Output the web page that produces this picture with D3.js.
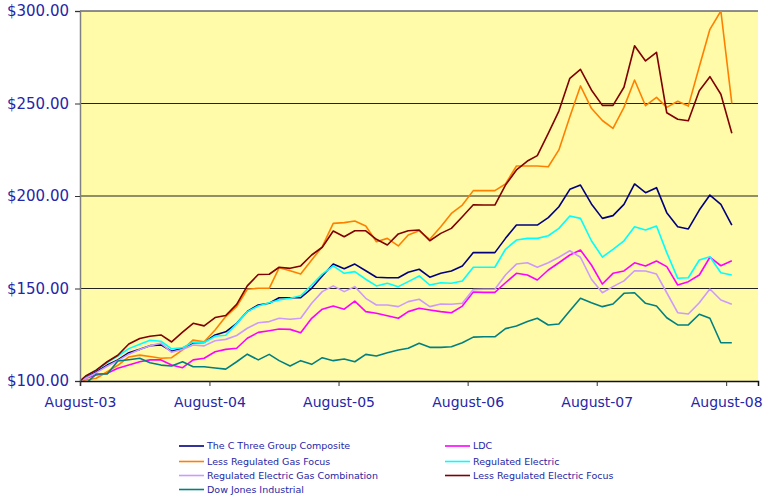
<!DOCTYPE html>
<html>
<head>
<meta charset="utf-8">
<script src="https://cdn.jsdelivr.net/npm/d3@7"></script>
<style>
    html, body { margin: 0; padding: 0; background: #fff; }
    svg { display: block; font-family: 'DejaVu Sans', Verdana, sans-serif; }
</style>
</head>
<body>
<svg id="chart" width="767" height="495"></svg>
<script>
// Data //
const dates = [
    '2003-08-15', '2003-08-31', '2003-09-30', '2003-10-31', '2003-11-30', '2003-12-31',
    '2004-01-31', '2004-02-29', '2004-03-31', '2004-04-30', '2004-05-31', '2004-06-30', '2004-07-31', '2004-08-31',
    '2004-09-30', '2004-10-31', '2004-11-30', '2004-12-31', '2005-01-31', '2005-02-28',
    '2005-03-31', '2005-04-30', '2005-05-31', '2005-06-30', '2005-07-31', '2005-08-31',
    '2005-09-30', '2005-10-31', '2005-11-30', '2005-12-31', '2006-01-31', '2006-02-28',
    '2006-03-31', '2006-04-30', '2006-05-31', '2006-06-30', '2006-07-31', '2006-08-31',
    '2006-09-30', '2006-10-31', '2006-11-30', '2006-12-31', '2007-01-31', '2007-02-28',
    '2007-03-31', '2007-04-30', '2007-05-31', '2007-06-30', '2007-07-31', '2007-08-31',
    '2007-09-30', '2007-10-31', '2007-11-30', '2007-12-31', '2008-01-31', '2008-02-29',
    '2008-03-31', '2008-04-30', '2008-05-31', '2008-06-30', '2008-07-31', '2008-08-31',
]

const cThreeComposite = [
    100, 102, 105, 108.6, 111.4, 115.3, 117.1, 119.1, 119.5, 116.1, 117.7, 120.7, 120.9, 124.9,
    126.6, 131.2, 137.6, 141.1, 142, 145, 145, 145, 150.1, 156.8, 163.2, 160.7,
    163.2, 159.6, 156.1, 155.8, 155.8, 158.8, 160.4, 156.1, 158.2, 159.5, 162.2, 169.4,
    169.4, 169.4, 177.1, 184.3, 184.3, 184.3, 188.3, 194.2, 203.6, 205.9, 195.7, 187.9,
    189.4, 195.5, 206.5, 201.8, 204.5, 191, 183.4, 182.2, 192.4, 200.5, 195.5, 184.3,
]

const ldc = [
    100, 101.5, 103.2, 104.2, 106.9, 108.6, 110.4, 111.4, 111.4, 108.6, 107.2, 111.4, 112.3, 115.8,
    117.1, 117.7, 123.1, 126.3, 127.2, 128.1, 127.9, 126.1, 133.9, 138.8, 140.5, 138.8,
    143.2, 137.5, 136.6, 135.3, 133.9, 137.5, 139.3, 138.4, 137.5, 136.9, 140.5, 148.1,
    147.9, 147.9, 153.1, 158.2, 157.3, 154.6, 160, 163.9, 168.1, 170.8, 162.7, 152.4,
    158.2, 159.5, 163.9, 162.2, 164.9, 161.8, 151.9, 153.7, 157.3, 166.9, 162.3, 165,
]

const lessRegGas = [
    100, 100.5, 101.5, 105, 108.5, 113, 114, 113.2, 112.3, 112.6, 116.8, 122.2, 121.2, 127.6,
    134.8, 140.2, 149.6, 150.1, 150.1, 161.2, 159.6, 157.8, 165.4, 172.6, 185.2, 185.6,
    186.5, 183.8, 175.3, 177.1, 173, 178.9, 181.2, 176.6, 183.4, 190.6, 195.1, 202.9,
    202.9, 202.9, 206.5, 216.2, 216.2, 216.2, 215.8, 224.9, 242.9, 259.5, 247.4, 240.8,
    236.6, 247.9, 262.7, 248.8, 253.3, 247.9, 251.2, 248.6, 269.9, 290.1, 300, 250.1,
]

const regElectric = [
    100, 102.5, 106, 110, 113.5, 117.5, 119.8, 122, 121.5, 117.4, 118, 121, 120.8, 124.2,
    124.7, 131, 137.5, 140.5, 142.3, 143.8, 144.7, 146.1, 151.9, 157.8, 162.2, 158.2,
    159.1, 155, 151.4, 152.8, 151, 153.7, 156.8, 151.9, 153.1, 152.8, 154.1, 161.5,
    161.5, 161.5, 171.2, 176.2, 177.1, 177.1, 178.5, 182.5, 189.2, 187.9, 175.8, 167,
    171.2, 175.8, 183.4, 181.6, 183.8, 169.4, 155.5, 155.8, 165.4, 167.2, 158.5, 157.3,
]

const regElecGasCombo = [
    100, 101.5, 104.5, 108, 111, 114.5, 117, 119, 120.5, 115.5, 117, 119.5, 119, 121.8,
    122.5, 124.6, 128.5, 131.5, 132.1, 133.9, 133.4, 133.9, 142, 148.3, 151.4, 148.3,
    151, 144.7, 141.1, 141.1, 140.2, 142.9, 144.2, 140.2, 141.6, 141.5, 142, 149.4,
    149.6, 149.6, 157.3, 163.2, 163.9, 161.5, 163.9, 166.9, 170.4, 166.9, 155, 147.7,
    151, 154.1, 159.6, 159.5, 157.8, 147.7, 136.9, 136.2, 142.3, 149.7, 143.8, 141.5,
]

const lessRegElectric = [
    100, 102.7, 105.9, 110.4, 113.9, 120, 123, 124.2, 124.9, 121.1, 126.4, 131.2, 129.8, 134.3,
    135.4, 141.4, 151.4, 157.6, 157.7, 161.5, 160.9, 162.2, 168.1, 172.3, 181.1, 178,
    181.2, 181.2, 176.6, 173.5, 179.5, 181.2, 181.6, 175.8, 179.8, 182.5, 188.8, 195.3,
    195.1, 195.1, 205.9, 214.1, 218.9, 221.8, 233.9, 245.9, 263.6, 268.5, 257.3, 249,
    249, 258.8, 281.2, 273, 277.7, 245, 241.5, 240.7, 256.9, 264.5, 255, 233.9,
]

const dowJones = [
    100, 98.5, 103.8, 103.8, 110.8, 111.5, 112.3, 109.9, 108.6, 108.1, 110.4, 107.7, 107.7, 107,
    106.4, 110.4, 114.5, 111.4, 114.4, 111, 108.1, 111, 109, 112.6, 111, 111.9,
    110.4, 114.4, 113.5, 115.3, 116.8, 117.7, 120.4, 118.2, 118.2, 118.5, 120.7, 123.7,
    123.9, 123.9, 128.3, 129.7, 132.1, 133.9, 130.3, 130.8, 138, 144.7, 142.3, 140.2,
    141.6, 147.4, 147.7, 142, 140.5, 134.2, 130.3, 130.3, 136.1, 133.9, 120.7, 120.7,
]

const seriesNames = [
    'The C Three Group Composite', 'LDC', 'Less Regulated Gas Focus', 'Regulated Electric',
    'Regulated Electric Gas Combination', 'Less Regulated Electric Focus', 'Dow Jones Industrial',
]
const seriesValues = [cThreeComposite, ldc, lessRegGas, regElectric, regElecGasCombo, lessRegElectric, dowJones]
const seriesColors = ['#000080', '#ff00ff', '#ff8000', '#00ffff', '#cc99ff', '#800000', '#008080']

const yTicks = [100, 150, 200, 250, 300]
const xTickDates = ['2003-08-15', '2004-08-15', '2005-08-15', '2006-08-15', '2007-08-15', '2008-08-15']
const xDomain = ['2003-08-15', '2008-11-13']

// Setup //
const textColor = '#2626a6'
const plot = { left: 80, right: 758, top: 11, bottom: 381 }
const parseDate = d3.utcParse('%Y-%m-%d')

const svg = d3.select('#chart')

const x = d3.scaleUtc()
    .domain(xDomain.map(parseDate))
    .range([plot.left, plot.right])

const y = d3.scaleLinear()
    .domain([100, 300])
    .range([plot.bottom, plot.top])

svg.append('defs').append('clipPath')
    .attr('id', 'plot-clip')
    .append('rect')
        .attr('x', plot.left)
        .attr('y', plot.top)
        .attr('width', plot.right - plot.left)
        .attr('height', plot.bottom - plot.top)

// Background + grid //
svg.append('rect')
    .attr('x', plot.left)
    .attr('y', plot.top)
    .attr('width', plot.right - plot.left)
    .attr('height', plot.bottom - plot.top)
    .attr('fill', '#fffba8')

svg.append('g')
    .selectAll('line')
    .data(yTicks.slice(1))
    .enter()
    .append('line')
        .attr('x1', plot.left)
        .attr('x2', plot.right)
        .attr('y1', d => y(d))
        .attr('y2', d => y(d))
        .attr('stroke', '#222')
        .attr('stroke-width', 1.2)

// Lines //
const line = d3.line()
    .x((d, i) => x(parseDate(dates[i])))
    .y(d => y(d))

svg.append('g')
    .attr('clip-path', 'url(#plot-clip)')
    .selectAll('path')
    .data(seriesValues)
    .enter()
    .append('path')
        .attr('d', line)
        .attr('fill', 'none')
        .attr('stroke', (d, i) => seriesColors[i])
        .attr('stroke-width', 1.6)
        .attr('stroke-linejoin', 'round')

// Axes //
const yAxis = svg.append('g')
    .attr('transform', `translate(${plot.left},0)`)
    .call(d3.axisLeft(y)
        .tickValues(yTicks)
        .tickFormat(d3.format('$.2f'))
        .tickSize(5)
        .tickPadding(6))

yAxis.select('.domain').attr('stroke', '#808080').attr('stroke-width', 1.5)
yAxis.selectAll('.tick line').attr('stroke', '#333')
yAxis.selectAll('text')
    .attr('fill', textColor)
    .style('font-size', '15px')
    .style('font-family', "'DejaVu Sans', Verdana, sans-serif")

const xAxis = svg.append('g')
    .attr('transform', `translate(0,${plot.bottom})`)
    .call(d3.axisBottom(x)
        .tickValues(xTickDates.map(parseDate))
        .tickFormat(d3.utcFormat('%B-%y'))
        .tickSize(5)
        .tickPadding(11))

xAxis.select('.domain').attr('stroke', '#111').attr('stroke-width', 1.5)
xAxis.selectAll('.tick line').attr('stroke', '#333')
xAxis.selectAll('text')
    .attr('fill', textColor)
    .style('font-size', '14px')
    .style('font-family', "'DejaVu Sans', Verdana, sans-serif")

// Legend //
const legendOrder = [
    { idx: 0, col: 0, row: 0 }, { idx: 1, col: 1, row: 0 },
    { idx: 2, col: 0, row: 1 }, { idx: 3, col: 1, row: 1 },
    { idx: 4, col: 0, row: 2 }, { idx: 5, col: 1, row: 2 },
    { idx: 6, col: 0, row: 3 },
]
const legendCols = [179, 445]
const legendRows = [446, 461.5, 475.5, 489.5]

const legend = svg.append('g')
    .selectAll('g')
    .data(legendOrder)
    .enter()
    .append('g')
        .attr('transform', d => `translate(${legendCols[d.col]},${legendRows[d.row]})`)

legend.append('line')
    .attr('x1', 0)
    .attr('x2', 25)
    .attr('stroke', d => seriesColors[d.idx])
    .attr('stroke-width', 1.6)

legend.append('text')
    .attr('x', 28)
    .attr('dy', '0.35em')
    .attr('fill', textColor)
    .style('font-size', '9.5px')
    .text(d => seriesNames[d.idx])
</script>
</body>
</html>
